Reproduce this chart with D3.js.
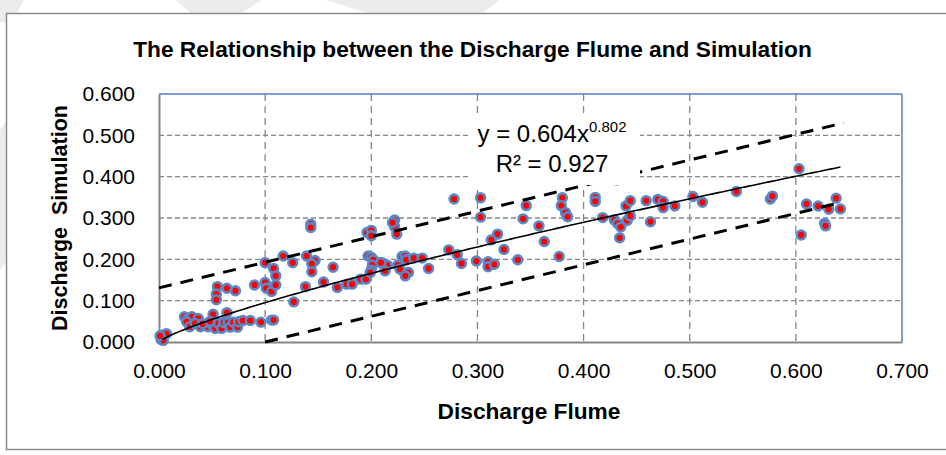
<!DOCTYPE html>
<html>
<head>
  <meta charset="UTF-8">
  <style>
    body { margin: 0; background: #fff; }
    svg { display: block; }
    text { font-family: "Liberation Sans", Arial, sans-serif; fill: #000; }
  </style>
  <script src="https://d3js.org/d3.v7.min.js"></script>
</head>
<body>
  <svg id="chart" width="946" height="455"></svg>
  <script>
    // discharge values (flume = x, simulation = y)
    var flumeQ = [
      0.002, 0.003, 0.005, 0.007, 0.004, 0.001,
      0.024, 0.027, 0.031, 0.037, 0.026, 0.029, 0.034, 0.039, 0.043, 0.046, 0.051, 0.050, 0.053, 0.056,
      0.059, 0.061, 0.064, 0.065, 0.067, 0.070, 0.074, 0.075, 0.079, 0.086, 0.096, 0.106, 0.108, 0.041, 0.048,
      0.055, 0.054, 0.054, 0.064, 0.072, 0.090, 0.100, 0.101, 0.106, 0.110, 0.127,
      0.100, 0.108, 0.110, 0.117, 0.126, 0.139, 0.143, 0.143, 0.147, 0.144, 0.144, 0.164, 0.138, 0.155,
      0.168, 0.177, 0.182, 0.190, 0.195,
      0.197, 0.200, 0.202, 0.201, 0.200, 0.199, 0.210, 0.215, 0.196, 0.200, 0.200, 0.222, 0.222, 0.224,
      0.209, 0.213, 0.225, 0.229, 0.232, 0.233, 0.227, 0.235, 0.232, 0.240, 0.248, 0.254, 0.220,
      0.273, 0.281, 0.285, 0.299, 0.310, 0.310, 0.316, 0.278, 0.303, 0.303, 0.346, 0.343, 0.380, 0.379,
      0.383, 0.385, 0.358, 0.319, 0.313, 0.363, 0.325, 0.338, 0.377,
      0.411, 0.411, 0.418, 0.429, 0.432, 0.435, 0.434, 0.440, 0.444, 0.441, 0.444, 0.459, 0.470, 0.475,
      0.475, 0.463, 0.486, 0.503, 0.512, 0.544, 0.431,
      0.576, 0.578, 0.603, 0.605, 0.610, 0.621, 0.627, 0.628, 0.631, 0.638, 0.642
    ];
    var simQ = [
      0.006, 0.012, 0.018, 0.020, 0.004, 0.015,
      0.061, 0.055, 0.061, 0.057, 0.049, 0.037, 0.045, 0.037, 0.041, 0.037, 0.067, 0.041, 0.033, 0.045,
      0.033, 0.047, 0.071, 0.047, 0.036, 0.048, 0.036, 0.049, 0.052, 0.052, 0.048, 0.053, 0.053, 0.044, 0.050,
      0.134, 0.116, 0.102, 0.130, 0.124, 0.138, 0.144, 0.130, 0.122, 0.138, 0.097,
      0.192, 0.178, 0.160, 0.208, 0.192, 0.208, 0.285, 0.277, 0.197, 0.189, 0.170, 0.181, 0.134, 0.145,
      0.132, 0.140, 0.140, 0.152, 0.152,
      0.208, 0.205, 0.199, 0.186, 0.174, 0.168, 0.192, 0.186, 0.265, 0.270, 0.257, 0.295, 0.279, 0.261,
      0.192, 0.172, 0.186, 0.207, 0.208, 0.199, 0.176, 0.168, 0.160, 0.203, 0.203, 0.178, 0.289,
      0.223, 0.211, 0.190, 0.196, 0.194, 0.182, 0.188, 0.346, 0.349, 0.302, 0.330, 0.298, 0.349, 0.330,
      0.313, 0.303, 0.281, 0.261, 0.247, 0.243, 0.224, 0.199, 0.207,
      0.350, 0.340, 0.301, 0.295, 0.287, 0.278, 0.252, 0.329, 0.342, 0.294, 0.305, 0.342, 0.345, 0.340,
      0.325, 0.291, 0.329, 0.352, 0.338, 0.364, 0.392,
      0.346, 0.353, 0.419, 0.259, 0.334, 0.329, 0.287, 0.281, 0.321, 0.348, 0.322
    ];

    // hand drawn dashed envelope lines [x, y]
    var upperBand = [[0.000, 0.131], [0.645, 0.530]];
    var lowerBand = [[0.100, 0.000], [0.640, 0.336]];

    // power trendline y = a x^b
    var fitA = 0.604, fitB = 0.802, fitR2 = 0.927;
    var fitRange = [0.003, 0.642];

    var xTicks = [0, 0.1, 0.2, 0.3, 0.4, 0.5, 0.6, 0.7];
    var yTicks = [0, 0.1, 0.2, 0.3, 0.4, 0.5, 0.6];

    var titleText = "The Relationship between the Discharge Flume and Simulation";
    var xTitle = "Discharge Flume";
    var yTitle = "Discharge\u00a0\u00a0Simulation";

    var svg = d3.select("#chart");
    var plot = {left: 159, right: 902, top: 94, bottom: 342};

    var x = d3.scaleLinear().domain([0, 0.7]).range([plot.left, plot.right]);
    var y = d3.scaleLinear().domain([0, 0.6]).range([plot.bottom, plot.top]);

    // faint page watermark strokes behind the chart
    var marks = [
      [[0, 0], [24, 0], [12, 22], [0, 22]],
      [[176, 0], [262, 0], [228, 22], [200, 22]],
      [[326, 0], [500, 0], [470, 22], [395, 22]],
      [[0, 130], [14, 110], [14, 250], [0, 270]]
    ];
    svg.append("g").selectAll("path")
      .data(marks)
      .enter().append("path")
      .attr("d", function(d) { return "M" + d.join("L") + "Z"; })
      .attr("fill", "#ececec");

    // chart area border
    svg.append("rect")
      .attr("x", 6.5).attr("y", 13.5).attr("width", 960).attr("height", 436)
      .attr("fill", "#fff").attr("stroke", "#8c8c8c").attr("stroke-width", 1.5);

    function fitText(sel, w) {
      var size = +sel.attr("font-size");
      var len = sel.node().getComputedTextLength();
      sel.attr("font-size", size * w / len);
    }

    // title
    var t = svg.append("text")
      .attr("x", 472.5).attr("y", 57)
      .attr("text-anchor", "middle")
      .attr("font-weight", "bold")
      .attr("font-size", 20)
      .text(titleText);
    fitText(t, 679);

    // gridlines
    var grid = svg.append("g");
    grid.selectAll("line.h")
      .data(yTicks.filter(function(d) { return d > 0 && d < 0.6; }))
      .enter().append("line")
      .attr("x1", plot.left).attr("x2", plot.right)
      .attr("y1", function(d) { return y(d); })
      .attr("y2", function(d) { return y(d); })
      .attr("stroke", "#868686").attr("stroke-width", 1.3)
      .attr("stroke-dasharray", "5,3");
    grid.selectAll("line.v")
      .data(xTicks.filter(function(d) { return d > 0 && d < 0.7; }))
      .enter().append("line")
      .attr("y1", plot.top).attr("y2", plot.bottom)
      .attr("x1", function(d) { return x(d); })
      .attr("x2", function(d) { return x(d); })
      .attr("stroke", "#868686").attr("stroke-width", 1.3)
      .attr("stroke-dasharray", "7,5");

    // top and right plot border (blue), bottom and left axes (grey)
    svg.append("line")
      .attr("x1", plot.left).attr("x2", plot.right)
      .attr("y1", y(0.6)).attr("y2", y(0.6))
      .attr("stroke", "#4f81bd").attr("stroke-width", 1.5);
    svg.append("line")
      .attr("x1", x(0.7)).attr("x2", x(0.7))
      .attr("y1", plot.top).attr("y2", plot.bottom)
      .attr("stroke", "#4f81bd").attr("stroke-width", 1.5);

    var xAxis = svg.append("g")
      .attr("transform", "translate(0," + plot.bottom + ")")
      .call(d3.axisBottom(x).tickValues(xTicks).tickFormat(d3.format(".3f")).tickSize(0).tickPadding(21));
    var yAxis = svg.append("g")
      .attr("transform", "translate(" + plot.left + ",0)")
      .call(d3.axisLeft(y).tickValues(yTicks).tickFormat(d3.format(".3f")).tickSize(0).tickPadding(24));
    [xAxis, yAxis].forEach(function(a) {
      a.select(".domain").attr("stroke", "#868686").attr("stroke-width", 2);
      a.selectAll("text")
        .attr("font-family", "'Liberation Sans', Arial, sans-serif")
        .attr("font-size", 21).attr("fill", "#000");
    });

    // axis titles
    var xt = svg.append("text")
      .attr("x", 529).attr("y", 419)
      .attr("text-anchor", "middle").attr("font-weight", "bold")
      .attr("font-size", 20).text(xTitle);
    fitText(xt, 183);
    var yt = svg.append("text")
      .attr("transform", "translate(67,218) rotate(-90)")
      .attr("text-anchor", "middle").attr("font-weight", "bold")
      .attr("font-size", 20).text(yTitle);
    fitText(yt, 226);

    // points
    var pts = flumeQ.map(function(d, i) { return [d, simQ[i]]; });
    svg.append("g").selectAll("circle")
      .data(pts)
      .enter().append("circle")
      .attr("cx", function(d) { return x(d[0]); })
      .attr("cy", function(d) { return y(d[1]); })
      .attr("r", 4.4)
      .attr("fill", "#ff0000")
      .attr("stroke", "#5a88c6")
      .attr("stroke-width", 2.6);

    // trendline
    var line = d3.line()
      .x(function(d) { return x(d[0]); })
      .y(function(d) { return y(d[1]); });
    var fitPts = d3.range(0, 201).map(function(i) {
      var xv = fitRange[0] + (fitRange[1] - fitRange[0]) * i / 200;
      return [xv, fitA * Math.pow(xv, fitB)];
    });
    svg.append("path")
      .attr("d", line(fitPts))
      .attr("fill", "none").attr("stroke", "#000").attr("stroke-width", 1.6);

    // dashed envelope
    [upperBand, lowerBand].forEach(function(b) {
      svg.append("path")
        .attr("d", line(b))
        .attr("fill", "none").attr("stroke", "#000").attr("stroke-width", 3)
        .attr("stroke-dasharray", "13,9");
    });

    // equation label box
    svg.append("rect")
      .attr("x", 468).attr("y", 116).attr("width", 172).attr("height", 69)
      .attr("fill", "#fff");
    var eq = svg.append("text")
      .attr("x", 552).attr("y", 142)
      .attr("text-anchor", "middle")
      .attr("font-size", 24);
    eq.append("tspan").text("y = " + fitA.toFixed(3) + "x");
    eq.append("tspan").attr("font-size", 15).attr("dy", -10).text(fitB.toFixed(3));
    svg.append("text")
      .attr("x", 552).attr("y", 172)
      .attr("text-anchor", "middle")
      .attr("font-size", 24)
      .text("R\u00b2 = " + fitR2.toFixed(3));
  </script>
</body>
</html>
